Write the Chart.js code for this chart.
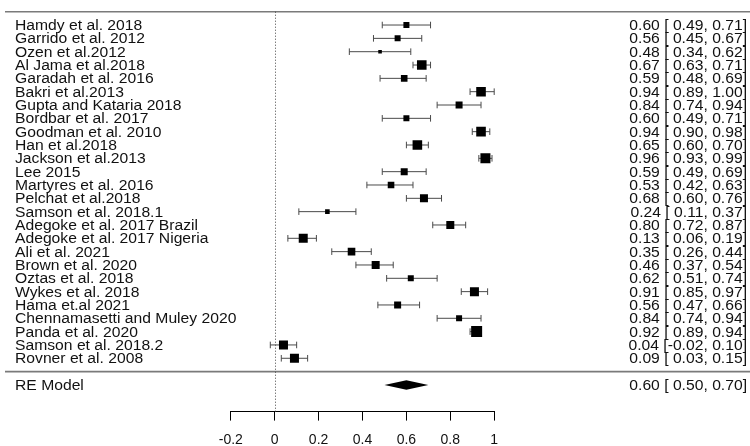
<!DOCTYPE html>
<html><head><meta charset="utf-8">
<script src="https://cdn.jsdelivr.net/npm/chart.js@4/dist/chart.umd.min.js"></script>
<style>html,body{margin:0;padding:0;background:#fff}#wrap{width:750px;height:446px;position:relative}</style>
</head><body><div id="wrap"><canvas id="c" width="750" height="446"></canvas></div>
<script>
const studies = [
  "Hamdy et al. 2018","Garrido et al. 2012","Ozen et al.2012","Al Jama et al.2018",
  "Garadah et al. 2016","Bakri et al.2013","Gupta and Kataria 2018","Bordbar et al. 2017",
  "Goodman et al. 2010","Han et al.2018","Jackson et al.2013","Lee 2015",
  "Martyres et al. 2016","Pelchat et al.2018","Samson et al. 2018.1","Adegoke et al. 2017 Brazil",
  "Adegoke et al. 2017 Nigeria","Ali et al. 2021","Brown et al. 2020","Oztas et al. 2018",
  "Wykes et al. 2018","Hama et.al 2021","Chennamasetti and Muley 2020","Panda et al. 2020",
  "Samson et al. 2018.2","Rovner et al. 2008"
];
const estimates = [0.60,0.56,0.48,0.67,0.59,0.94,0.84,0.60,0.94,0.65,0.96,0.59,0.53,0.68,0.24,0.80,0.13,0.35,0.46,0.62,0.91,0.56,0.84,0.92,0.04,0.09];
const lower     = [0.49,0.45,0.34,0.63,0.48,0.89,0.74,0.49,0.90,0.60,0.93,0.49,0.42,0.60,0.11,0.72,0.06,0.26,0.37,0.51,0.85,0.47,0.74,0.89,-0.02,0.03];
const upper     = [0.71,0.67,0.62,0.71,0.69,1.00,0.94,0.71,0.98,0.70,0.99,0.69,0.63,0.76,0.37,0.87,0.19,0.44,0.54,0.74,0.97,0.66,0.94,0.94,0.10,0.15];
const weights   = [3.0,3.0,1.8,4.8,3.3,4.8,3.5,3.0,4.8,4.8,5.0,3.5,3.3,4.0,2.3,4.0,4.5,3.8,4.0,3.0,4.5,3.5,3.0,5.5,4.5,4.5];
const pooledLabel = ["RE Model"];
const pooledEstimate = [0.60];
const pooledLower = [0.50];
const pooledUpper = [0.70];
const tickValues = [-0.2,0,0.2,0.4,0.6,0.8,1];
const tickLabels = ["-0.2","0","0.2","0.4","0.6","0.8","1"];

const FONT = '"Liberation Sans", Arial, sans-serif';
const SX = 1.12;
const k = studies.length;
const rows = studies.map((_, i) => k - i);
const pooledRow = -1;
const maxW = Math.max(...weights);
const MAXSIZE = 11;
const radii = weights.map(w => (w / maxW * MAXSIZE) / Math.SQRT2);

function fmt(v){ return v < 0 ? v.toFixed(2) : ' ' + v.toFixed(2); }
function txt(ctx, s, x, y, align){
  ctx.save(); ctx.translate(x, y); ctx.scale(SX, 1);
  ctx.textAlign = align; ctx.textBaseline = 'alphabetic';
  ctx.fillText(s, 0, 0); ctx.restore();
}

const forest = {
  id: 'forest',
  beforeDatasetsDraw(chart){
    const ctx = chart.ctx, xs = chart.scales.x, ys = chart.scales.y;
    ctx.save();
    ctx.strokeStyle = '#7a7a7a'; ctx.lineWidth = 1.6;
    [k + 1, 0].forEach(r => {
      const y = ys.getPixelForValue(r);
      ctx.beginPath(); ctx.moveTo(5, y); ctx.lineTo(750, y); ctx.stroke();
    });
    ctx.strokeStyle = '#444'; ctx.lineWidth = 1; ctx.setLineDash([1, 2]);
    const x0 = Math.round(xs.getPixelForValue(0)) + 0.5;
    ctx.beginPath(); ctx.moveTo(x0, ys.getPixelForValue(k + 1)); ctx.lineTo(x0, ys.getPixelForValue(-3)); ctx.stroke();
    ctx.setLineDash([]);
    ctx.strokeStyle = '#4a4a4a'; ctx.lineWidth = 1;
    rows.forEach((r, i) => {
      const y = ys.getPixelForValue(r);
      const xl = xs.getPixelForValue(lower[i]), xh = xs.getPixelForValue(upper[i]);
      ctx.beginPath(); ctx.moveTo(xl, y); ctx.lineTo(xh, y);
      ctx.moveTo(xl, y - 3.3); ctx.lineTo(xl, y + 3.3);
      ctx.moveTo(xh, y - 3.3); ctx.lineTo(xh, y + 3.3);
      ctx.stroke();
    });
    const yp = ys.getPixelForValue(pooledRow);
    ctx.fillStyle = '#000';
    ctx.beginPath();
    ctx.moveTo(xs.getPixelForValue(pooledLower[0]), yp);
    ctx.lineTo(xs.getPixelForValue(pooledEstimate[0]), yp - 4.7);
    ctx.lineTo(xs.getPixelForValue(pooledUpper[0]), yp);
    ctx.lineTo(xs.getPixelForValue(pooledEstimate[0]), yp + 4.7);
    ctx.closePath(); ctx.fill();
    ctx.restore();
  },
  afterDraw(chart){
    const ctx = chart.ctx, ys = chart.scales.y;
    ctx.save();
    ctx.fillStyle = '#111';
    ctx.font = '14px ' + FONT;
    rows.forEach((r, i) => {
      const y = ys.getPixelForValue(r) + 5;
      txt(ctx, studies[i], 15, y, 'left');
      txt(ctx, estimates[i].toFixed(2) + ' [' + fmt(lower[i]) + ',' + fmt(upper[i]) + ']', 747, y, 'right');
    });
    const yp = ys.getPixelForValue(pooledRow) + 5;
    txt(ctx, pooledLabel[0], 15, yp, 'left');
    txt(ctx, pooledEstimate[0].toFixed(2) + ' [' + fmt(pooledLower[0]) + ',' + fmt(pooledUpper[0]) + ']', 747, yp, 'right');
    ctx.restore();
  }
};

new Chart(document.getElementById('c'), {
  type: 'scatter',
  data: { datasets: [{
    data: estimates.map((e, i) => ({ x: e, y: rows[i] })),
    pointStyle: 'rect', pointRadius: radii, pointHoverRadius: radii,
    backgroundColor: '#000', borderWidth: 0
  }]},
  options: {
    responsive: false, animation: false, devicePixelRatio: 1,
    events: [],
    layout: { padding: { left: 230.8, right: 255.8, top: 11.7, bottom: 0 } },
    plugins: { legend: { display: false }, tooltip: { enabled: false } },
    scales: {
      x: {
        type: 'linear', min: -0.2, max: 1,
        afterBuildTicks: s => { s.ticks = tickValues.map(v => ({ value: v })); },
        afterFit: s => { s.height = 34.4; },
        ticks: { callback: (v, i) => tickLabels[i], font: { family: FONT, size: 14 }, color: '#111', padding: 11, maxRotation: 0, autoSkip: false },
        grid: { drawOnChartArea: false, drawTicks: true, tickLength: 9, color: '#000', lineWidth: 1 },
        border: { color: '#000', width: 1 }
      },
      y: { type: 'linear', min: -3, max: 27, display: false }
    }
  },
  plugins: [forest]
});
</script>
</body></html>
